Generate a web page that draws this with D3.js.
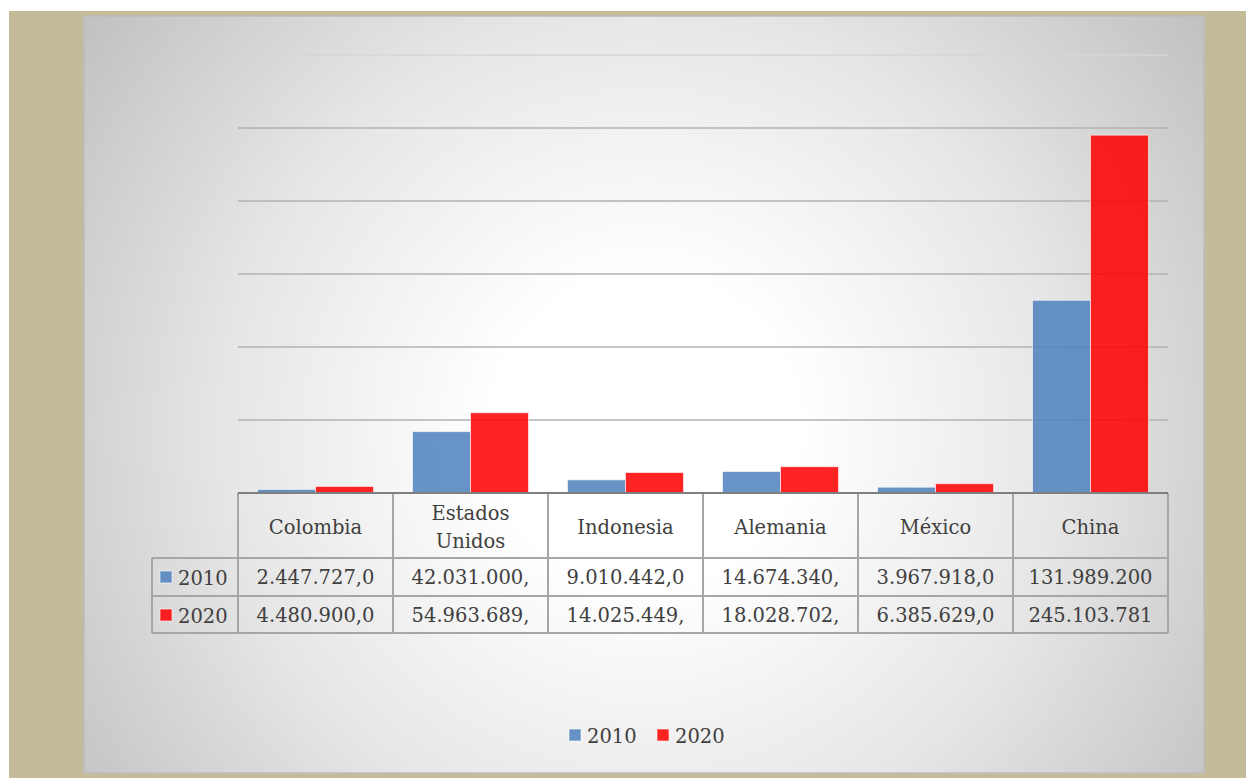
<!DOCTYPE html>
<html>
<head>
<meta charset="utf-8">
<script src="https://cdn.jsdelivr.net/npm/d3@7"></script>
<style>
  html, body { margin: 0; padding: 0; background: #ffffff; }
  svg { display: block; }
</style>
</head>
<body>
<div id="chart"></div>
<script>
// Data
const categories = ["Colombia", "Estados Unidos", "Indonesia", "Alemania", "México", "China"];
const seriesNames = ["2010", "2020"];
const values2010 = [2447727.0, 42031000.0, 9010442.0, 14674340.0, 3967918.0, 131989200.0];
const values2020 = [4480900.0, 54963689.0, 14025449.0, 18028702.0, 6385629.0, 245103781.0];
const yTicks = [0, 50000000, 100000000, 150000000, 200000000, 250000000, 300000000];

const seriesValues = [values2010, values2020];
const colors = ["#4f81bd", "#ff0000"];

const width = 1246, height = 778;
const plot = { left: 238, right: 1168, top: 55, bottom: 493 };
const fontFamily = "'DejaVu Serif', serif";
const textColor = "#404040";

const svg = d3.select("#chart").append("svg")
    .attr("width", width)
    .attr("height", height);

// Background gradient for the panel
const defs = svg.append("defs");
const grad = defs.append("radialGradient")
    .attr("id", "panelGrad")
    .attr("gradientUnits", "userSpaceOnUse")
    .attr("cx", 645).attr("cy", 430).attr("r", 700);
grad.append("stop").attr("offset", "0.22").attr("stop-color", "#ffffff");
grad.append("stop").attr("offset", "0.6").attr("stop-color", "#e6e6e6");
grad.append("stop").attr("offset", "1").attr("stop-color", "#c0c0c0");

// Beige frame and panel
svg.append("rect")
    .attr("x", 9).attr("y", 11)
    .attr("width", width - 9).attr("height", height - 11)
    .attr("fill", "#c4bc98");
svg.append("rect")
    .attr("x", 84).attr("y", 16)
    .attr("width", 1120).attr("height", 757)
    .attr("fill", "url(#panelGrad)")
    .attr("stroke", "#bcbcbc")
    .attr("stroke-width", 1.5);

// Scales
const y = d3.scaleLinear()
    .domain([0, 300000000])
    .range([plot.bottom, plot.top]);

const x0 = d3.scaleBand()
    .domain(categories)
    .range([plot.left, plot.right])
    .paddingInner(0)
    .paddingOuter(0);

const x1 = d3.scaleBand()
    .domain(seriesNames)
    .range([19.5, x0.bandwidth() - 19.5])
    .padding(0);

// Gridlines
svg.append("g")
    .selectAll("line")
    .data(yTicks.slice(1))
    .enter().append("line")
    .attr("x1", plot.left).attr("x2", plot.right)
    .attr("y1", d => y(d)).attr("y2", d => y(d))
    .attr("stroke", (d, i) => i === yTicks.length - 2 ? "#d6d6d6" : "#b2b2b2")
    .attr("stroke-width", 1.5);

// Bars
const groups = svg.append("g")
    .selectAll("g")
    .data(categories)
    .enter().append("g")
    .attr("transform", d => "translate(" + x0(d) + ",0)");

groups.selectAll("rect")
    .data((d, i) => seriesNames.map((s, j) => ({ series: s, value: seriesValues[j][i], idx: j })))
    .enter().append("rect")
    .attr("x", d => x1(d.series))
    .attr("width", x1.bandwidth())
    .attr("y", d => y(d.value))
    .attr("height", d => y(0) - y(d.value))
    .attr("fill", d => colors[d.idx])
    .attr("fill-opacity", 0.86)
    .attr("stroke", "#ffffff")
    .attr("stroke-opacity", 0.6)
    .attr("stroke-width", 1);

// Data table
const fmt = d3.formatLocale({ decimal: ",", thousands: ".", grouping: [3], currency: ["", ""] }).format(",.1f");
const headerBottom = 558, row1Bottom = 596, row2Bottom = 633;
const legendColLeft = 152;
const gridColor = "#a6a6a6";

const table = svg.append("g");

// horizontal lines
[headerBottom, row1Bottom, row2Bottom].forEach(yy => {
    table.append("line").attr("x1", legendColLeft).attr("x2", plot.right)
        .attr("y1", yy).attr("y2", yy)
        .attr("stroke", gridColor).attr("stroke-width", 2);
});

// vertical lines
const colEdges = categories.map(c => x0(c)).concat([plot.right]);
table.selectAll("line.v")
    .data(colEdges)
    .enter().append("line")
    .attr("class", "v")
    .attr("x1", d => d).attr("x2", d => d)
    .attr("y1", plot.bottom).attr("y2", row2Bottom)
    .attr("stroke", gridColor).attr("stroke-width", 2);
table.append("line")
    .attr("x1", legendColLeft).attr("x2", legendColLeft)
    .attr("y1", headerBottom).attr("y2", row2Bottom)
    .attr("stroke", gridColor).attr("stroke-width", 2);

// axis baseline
svg.append("line")
    .attr("x1", plot.left).attr("x2", plot.right)
    .attr("y1", plot.bottom).attr("y2", plot.bottom)
    .attr("stroke", "#7f7f7f").attr("stroke-width", 2);

// header labels (category names, wrapped)
const cx = d => x0(d) + x0.bandwidth() / 2;
table.selectAll("text.cat")
    .data(categories)
    .enter().append("text")
    .attr("class", "cat")
    .attr("text-anchor", "middle")
    .attr("font-family", fontFamily)
    .attr("font-size", 19.5)
    .attr("fill", textColor)
    .each(function (d) {
        const words = d.split(" ");
        const t = d3.select(this);
        if (words.length > 1) {
            t.append("tspan").attr("x", cx(d)).attr("y", 520).text(words[0]);
            t.append("tspan").attr("x", cx(d)).attr("y", 548).text(words.slice(1).join(" "));
        } else {
            t.append("tspan").attr("x", cx(d)).attr("y", 534).text(d);
        }
    });

// value cells, truncated like the spreadsheet does
const maxCellText = 126;
const rowBaselines = [584, 622];
seriesValues.forEach((vals, j) => {
    table.selectAll("text.val" + j)
        .data(categories)
        .enter().append("text")
        .attr("class", "val" + j)
        .attr("x", d => cx(d))
        .attr("y", rowBaselines[j])
        .attr("text-anchor", "middle")
        .attr("font-family", fontFamily)
        .attr("font-size", 19.5)
        .attr("fill", textColor)
        .text((d, i) => fmt(vals[i]))
        .each(function () {
            let s = this.textContent;
            while (this.getComputedTextLength() > maxCellText && s.length > 1) {
                s = s.slice(0, -1);
                this.textContent = s;
            }
        });
});

// legend keys inside table
seriesNames.forEach((s, j) => {
    table.append("rect")
        .attr("x", 160).attr("y", rowBaselines[j] - 13)
        .attr("width", 12).attr("height", 12)
        .attr("fill", colors[j]).attr("fill-opacity", 0.86)
        .attr("stroke", "#ffffff").attr("stroke-opacity", 0.6);
    table.append("text")
        .attr("x", 178).attr("y", rowBaselines[j] + 1)
        .attr("font-family", fontFamily)
        .attr("font-size", 19.5)
        .attr("fill", textColor)
        .text(s);
});

// bottom legend
const legend = svg.append("g");
const legendX = [569, 657];
seriesNames.forEach((s, j) => {
    legend.append("rect")
        .attr("x", legendX[j]).attr("y", 729)
        .attr("width", 12).attr("height", 12)
        .attr("fill", colors[j]).attr("fill-opacity", 0.86)
        .attr("stroke", "#ffffff").attr("stroke-opacity", 0.6);
    legend.append("text")
        .attr("x", legendX[j] + 18).attr("y", 743)
        .attr("font-family", fontFamily)
        .attr("font-size", 19.5)
        .attr("fill", textColor)
        .text(s);
});
</script>
</body>
</html>
